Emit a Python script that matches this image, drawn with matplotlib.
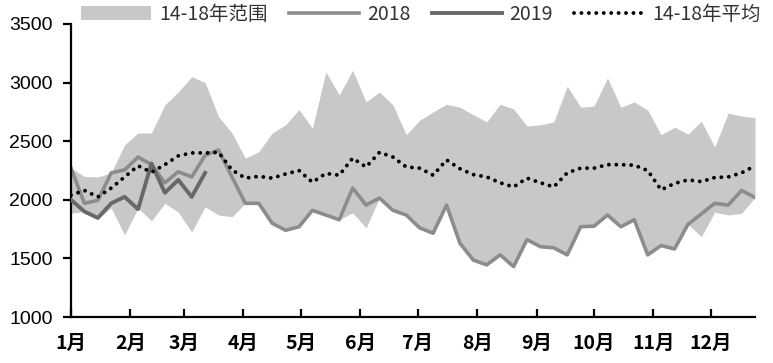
import matplotlib
matplotlib.use("Agg")
import matplotlib.pyplot as plt
import numpy as np

# ---- data (weekly, 52 weeks) ----
range_upper = [2270, 2200, 2195, 2230, 2470, 2570, 2570, 2810, 2920, 3050,
               3000, 2710, 2570, 2355, 2410, 2570, 2640, 2770, 2610, 3090,
               2895, 3105, 2835, 2920, 2810, 2555, 2680, 2750, 2815, 2790,
               2725, 2665, 2815, 2775, 2630, 2640, 2665, 2970, 2790, 2800,
               3040, 2790, 2835, 2765, 2555, 2620, 2560, 2670, 2450, 2740,
               2715, 2700]
range_lower = [1885, 1900, 1840, 1930, 1700, 1930, 1820, 1970, 1895, 1725,
               1940, 1870, 1855, 1970, 1970, 1800, 1740, 1770, 1910, 1870,
               1830, 1890, 1760, 2015, 1910, 1870, 1760, 1715, 1955, 1630,
               1485, 1445, 1530, 1430, 1660, 1600, 1590, 1530, 1770, 1775,
               1870, 1770, 1830, 1530, 1610, 1580, 1790, 1685, 1895, 1870,
               1885, 2020]
y2018 = [2270, 1970, 1995, 2230, 2255, 2365, 2300, 2145, 2240, 2195,
         2380, 2425, 2195, 1970, 1970, 1800, 1740, 1770, 1910, 1870,
         1830, 2100, 1955, 2015, 1910, 1870, 1760, 1715, 1955, 1630,
         1485, 1445, 1530, 1430, 1660, 1600, 1590, 1530, 1770, 1775,
         1870, 1770, 1830, 1530, 1610, 1580, 1790, 1880, 1970, 1955,
         2080, 2020]
y2019 = [2000, 1900, 1845, 1970, 2025, 1920, 2310, 2060, 2170, 2025, 2230]
avg = [2040, 2080, 2025, 2100, 2195, 2290, 2235, 2300, 2375, 2400,
       2400, 2405, 2255, 2185, 2200, 2185, 2220, 2250, 2150, 2225,
       2210, 2355, 2280, 2405, 2365, 2280, 2270, 2210, 2340, 2265,
       2215, 2195, 2145, 2110, 2185, 2145, 2110, 2230, 2270, 2270,
       2300, 2300, 2295, 2250, 2085, 2140, 2170, 2155, 2190, 2195,
       2230, 2290]
month_labels = ["1月", "2月", "3月", "4月", "5月", "6月",
                "7月", "8月", "9月", "10月", "11月", "12月"]
month_start_day = [0, 31, 59, 90, 120, 151, 181, 212, 243, 273, 304, 334]
legend_labels = ["14-18年范围", "2018", "2019", "14-18年平均"]

weeks = np.arange(len(range_upper))
weeks19 = np.arange(len(y2019))

plt.rcParams['font.family'] = ['Noto Sans CJK SC', 'DejaVu Sans']

fig = plt.figure(figsize=(7.73, 3.63), dpi=100)
ax = fig.add_axes([71/773, 1-317/363, (755-71)/773, (317-24)/363])

ax.fill_between(weeks, range_lower, range_upper, color='#c8c8c8', lw=0,
                label=legend_labels[0], zorder=1)
ax.plot(weeks, y2018, color='#8c8c8c', lw=2.6, label=legend_labels[1], zorder=2)
ax.plot(weeks19, y2019, color='#686868', lw=2.8, label=legend_labels[2], zorder=3)
ax.plot(weeks, avg, color='black', lw=2.8, linestyle=(0, (0.01, 1.9)),
        dash_capstyle='round', label=legend_labels[3], zorder=4)

ax.set_xlim(0, len(range_upper) - 1)
ax.set_ylim(1000, 3500)
ax.set_yticks([1000, 1500, 2000, 2500, 3000, 3500])
ax.set_xticks([d / 7 for d in month_start_day])
ax.set_xticklabels(month_labels, fontweight='bold')

for s in ['top', 'right']:
    ax.spines[s].set_visible(False)
for s in ['left', 'bottom']:
    ax.spines[s].set_linewidth(1.6)
    ax.spines[s].set_color('black')

ax.tick_params(axis='y', direction='out', length=6, width=1.6, pad=7,
               labelsize=14)
ax.tick_params(axis='x', direction='in', length=6, width=1.6, pad=12,
               labelsize=14)
for lab in ax.get_yticklabels():
    lab.set_fontfamily(['Liberation Sans', 'DejaVu Sans'])

handles, labels = ax.get_legend_handles_labels()
fig.legend(handles, labels, loc='center', bbox_to_anchor=(421/773, 1-14/363),
           ncol=4, frameon=False, fontsize=14, handlelength=3.6,
           handletextpad=0.4, columnspacing=1.1, borderpad=0,
           labelcolor='#333333')

fig.savefig('out.png', dpi=100)
